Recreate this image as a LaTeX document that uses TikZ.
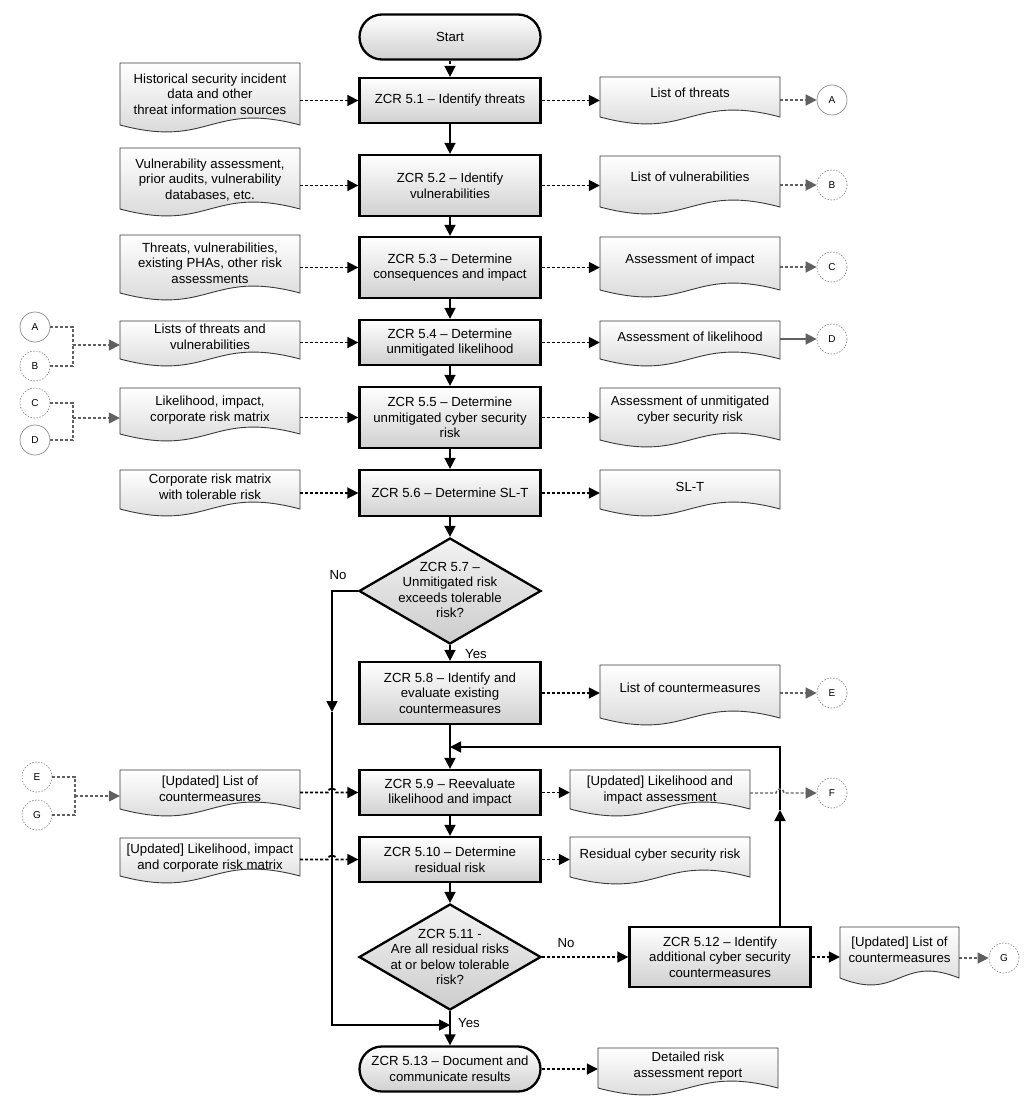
\documentclass[tikz,border=0pt]{standalone}
\usepackage{fontspec}
\setmainfont{Liberation Sans}
\usetikzlibrary{shapes.geometric,shapes.misc,arrows.meta,calc}
\definecolor{cgray}{HTML}{606060}
\definecolor{ccirc}{HTML}{8C8C8C}
\definecolor{fillbot}{HTML}{D0D0D0}
\definecolor{docline}{HTML}{3A3A3A}
\newcommand\docshape[4]{%
  \path[docpaint] (#1,#3) -- (#2,#3) -- (#2,#4) .. controls ({(#1+#2)/2},{#4-24}) and ({(#1+#2)/2},{#4+24}) .. (#1,#4) -- cycle;}
\begin{document}
\begin{tikzpicture}[x=1pt,y=-1pt,
 txt/.style={font=\fontsize{13.2}{15.6}\selectfont, align=center, inner sep=0pt},
 proc/.style={txt, draw=black, line width=2.3pt, rectangle, minimum width=181pt, top color=white, bottom color=fillbot},
 term/.style={txt, draw=black, line width=2.3pt, rounded rectangle, minimum width=181pt, minimum height=45pt, top color=white, bottom color=fillbot},
 dec/.style={draw=black, line width=2.3pt, diamond, minimum width=182pt, minimum height=106pt, inner sep=0pt, top color=black!5, bottom color=black!20},
 docpaint/.style={draw=docline, line width=0.9pt, top color=white, bottom color=black!18},
 doctext/.style={txt, minimum width=180pt},
 conn/.style={circle, draw=ccirc, line width=0.7pt, fill=white, minimum size=30pt, inner sep=0pt, font=\fontsize{10}{12}\selectfont},
 connd/.style={conn, dash pattern=on 1.5pt off 1.5pt},
 flow/.style={line width=1.7pt, -{Triangle[length=11pt,width=11pt]}},
 dflow/.style={flow, dash pattern=on 3pt off 2pt},
 gflow/.style={draw=cgray, line width=1.4pt, dash pattern=on 3pt off 2pt, -{Triangle[length=11pt,width=11pt]}},
 gsolid/.style={draw=cgray, line width=1.4pt, -{Triangle[length=11pt,width=11pt]}},
 gline/.style={draw=cgray, line width=1.4pt, dash pattern=on 3pt off 2pt},
 lbl/.style={font=\fontsize{13.2}{15.6}\selectfont, inner sep=0pt}]
\fill[white] (0,0) rectangle (1026,1102);
\useasboundingbox (0,0) rectangle (1026,1102);

% document outlines
\docshape{120}{300}{63}{125}
\docshape{120}{300}{148}{209}
\docshape{120}{300}{235}{293}
\docshape{120}{300}{321}{359}
\docshape{120}{300}{388}{434}
\docshape{120}{300}{470}{509}
\docshape{120}{300}{770}{809}
\docshape{120}{300}{838}{876}
\docshape{600}{780}{77}{117}
\docshape{600}{780}{156}{207}
\docshape{600}{780}{237}{290}
\docshape{600}{780}{321}{359}
\docshape{600}{780}{388}{440}
\docshape{600}{780}{470}{509}
\docshape{600}{780}{665}{718}
\docshape{570}{750}{770}{809}
\docshape{570}{750}{837}{877}
\docshape{840}{959}{927}{978}
\docshape{598}{778}{1048}{1088}

% document texts
\node[doctext] (L1) at (210,94) {Historical security incident\\data and other\\threat information sources};
\node[doctext] (L2) at (210,180) {Vulnerability assessment,\\prior audits, vulnerability\\databases, etc.};
\node[doctext] (L3) at (210,263) {Threats, vulnerabilities,\\existing PHAs, other risk\\assessments};
\node[doctext] (L4) at (210,337) {Lists of threats and\\vulnerabilities};
\node[doctext] (L5) at (210,410) {Likelihood, impact,\\corporate risk matrix};
\node[doctext] (L6) at (210,487) {Corporate risk matrix\\with tolerable risk};
\node[doctext] (L7) at (210,789) {[Updated] List of\\countermeasures};
\node[doctext] (L8) at (210,858) {[Updated] Likelihood, impact\\and corporate risk matrix};
\node[doctext] (R1) at (690,93) {List of threats};
\node[doctext] (R2) at (690,177) {List of vulnerabilities};
\node[doctext] (R3) at (690,260) {Assessment of impact};
\node[doctext] (R4) at (690,337) {Assessment of likelihood};
\node[doctext] (R5) at (690,410) {Assessment of unmitigated\\cyber security risk};
\node[doctext] (R6) at (690,487) {SL-T};
\node[doctext] (R7) at (690,688) {List of countermeasures};
\node[doctext] (R8) at (660,790) {[Updated] Likelihood and\\impact assessment};
\node[doctext] (R9) at (660,855) {Residual cyber security risk};
\node[doctext, minimum width=119pt] (R10) at (899.5,950) {[Updated] List of\\countermeasures};
\node[doctext] (R11) at (688,1066) {Detailed risk\\assessment report};

% process steps
\node[term] (S) at (450,37) {Start};
\node[proc, minimum height=45pt] (P51) at (450,100.5) {ZCR 5.1 – Identify threats};
\node[proc, minimum height=61pt] (P52) at (450,185.5) {ZCR 5.2 – Identify\\vulnerabilities};
\node[proc, minimum height=61pt] (P53) at (450,267.5) {ZCR 5.3 – Determine\\consequences and impact};
\node[proc, minimum height=45pt] (P54) at (450,342.5) {ZCR 5.4 – Determine\\unmitigated likelihood};
\node[proc, minimum height=61pt] (P55) at (450,417.5) {ZCR 5.5 – Determine\\unmitigated cyber security\\risk};
\node[proc, minimum height=46pt] (P56) at (450,493) {ZCR 5.6 – Determine SL-T};
\node[dec] (D57) at (450,591) {};
\node[txt] (D57t) at (450,590) {ZCR 5.7 –\\Unmitigated risk\\exceeds tolerable\\risk?};
\node[proc, minimum height=62pt] (P58) at (450,693) {ZCR 5.8 – Identify and\\evaluate existing\\countermeasures};
\node[proc, minimum height=45pt] (P59) at (450,792.5) {ZCR 5.9 – Reevaluate\\likelihood and impact};
\node[proc, minimum height=45pt] (P510) at (450,859.5) {ZCR 5.10 – Determine\\residual risk};
\node[dec] (D511) at (450,957) {};
\node[txt] (D511t) at (450,957) {ZCR 5.11 -\\Are all residual risks\\at or below tolerable\\risk?};
\node[proc, minimum height=60pt] (P512) at (720,957) {ZCR 5.12 – Identify\\additional cyber security\\countermeasures};
\node[term] (P513) at (450,1069) {ZCR 5.13 – Document and\\communicate results};

% off-page connectors
\node[conn] (cA) at (832,100) {A};
\node[connd] (cB) at (832,185) {B};
\node[connd] (cC) at (832,267) {C};
\node[connd] (cD) at (832,339) {D};
\node[connd] (cE) at (832,693) {E};
\node[connd] (cF) at (832,793) {F};
\node[connd] (cG) at (1004,958) {G};
\node[conn] (lA) at (35,327) {A};
\node[connd] (lB) at (35,366) {B};
\node[connd] (lC) at (35,403) {C};
\node[conn] (lD) at (35,440) {D};
\node[connd] (lE) at (37,777) {E};
\node[connd] (lG) at (37,815) {G};

% labels
\node[lbl] (no1) at (338,575) {No};
\node[lbl] (yes1) at (476,654) {Yes};
\node[lbl] (no2) at (566,943) {No};
\node[lbl] (yes2) at (469,1023) {Yes};

% helper coordinates
\coordinate (nox) at (332,591);
\coordinate (nomid) at (332,712);
\coordinate (nobot) at (332,1025);
\coordinate (yesjoin) at (450,1025);
\coordinate (ltop) at (780,747);
\coordinate (lmid) at (780,810);
\coordinate (bAB) at (73,345);
\coordinate (bCD) at (73,418);
\coordinate (bEG) at (75,796);

% main flow
\draw[flow, dash pattern=on 3pt off 2pt] (S.south) -- (P51.north);
\draw[flow] (P51) -- (P52);
\draw[flow] (P52) -- (P53);
\draw[flow] (P53) -- (P54);
\draw[flow] (P54) -- (P55);
\draw[flow] (P55) -- (P56);
\draw[flow] (P56.south) -- (D57.north);
\draw[flow] (D57.south) -- (P58.north);
\draw[flow] (P58.south) -- (P59.north);
\draw[flow] (P59) -- (P510);
\draw[flow] (P510.south) -- (D511.north);
\draw[flow] (D511.south) -- (P513.north);
\draw[flow] (D57.west) -- (D57.west -| nomid) -- (nomid);
\draw[flow] (nomid) -- (nobot) -- (yesjoin);
\draw[dflow] (D511.east) -- (P512.west);
\draw[flow] (P512.north -| ltop) -- (lmid);
\draw[flow] (lmid) -- (ltop) -- (P58.south |- ltop);

% inputs
\draw[dflow] (L1.east |- P51.west) -- (P51.west);
\draw[dflow] (L2.east |- P52.west) -- (P52.west);
\draw[dflow] (L3.east |- P53.west) -- (P53.west);
\draw[dflow] (L4.east |- P54.west) -- (P54.west);
\draw[dflow] (L5.east |- P55.west) -- (P55.west);
\draw[dflow] (L6.east |- P56.west) -- (P56.west);
\draw[dflow] (L7.east |- P59.west) -- ($(nox |- P59.west)+(-4,0)$) .. controls +(0,-5.5) and +(0,-5.5) .. ($(nox |- P59.west)+(4,0)$) -- (P59.west);
\draw[dflow] (L8.east |- P510.west) -- ($(nox |- P510.west)+(-4,0)$) .. controls +(0,-5.5) and +(0,-5.5) .. ($(nox |- P510.west)+(4,0)$) -- (P510.west);

% outputs
\draw[dflow] (P51.east) -- (R1.west |- P51.east);
\draw[dflow] (P52.east) -- (R2.west |- P52.east);
\draw[dflow] (P53.east) -- (R3.west |- P53.east);
\draw[dflow] (P54.east) -- (R4.west |- P54.east);
\draw[dflow] (P55.east) -- (R5.west |- P55.east);
\draw[dflow] (P56.east) -- (R6.west |- P56.east);
\draw[dflow] (P58.east) -- (R7.west |- P58.east);
\draw[dflow] (P59.east) -- (R8.west |- P59.east);
\draw[dflow] (P510.east) -- (R9.west |- P510.east);
\draw[dflow] (P512.east) -- (R10.west |- P512.east);
\draw[dflow] (P513.east) -- (R11.west |- P513.east);

% off-page links
\draw[gflow] (R1.east |- cA.west) -- (cA.west);
\draw[gflow] (R2.east |- cB.west) -- (cB.west);
\draw[gflow] (R3.east |- cC.west) -- (cC.west);
\draw[gsolid] (R4.east |- cD.west) -- (cD.west);
\draw[gflow] (R7.east |- cE.west) -- (cE.west);
\draw[gflow] (R8.east |- cF.west) -- ($(ltop |- cF.west)+(-4,0)$) .. controls +(0,-5.5) and +(0,-5.5) .. ($(ltop |- cF.west)+(4,0)$) -- (cF.west);
\draw[gflow] (R10.east |- cG.west) -- (cG.west);
\draw[gline] (lA.east) -| (bAB);
\draw[gline] (lB.east) -| (bAB);
\draw[gflow] (bAB) -- (L4.west |- bAB);
\draw[gline] (lC.east) -| (bCD);
\draw[gline] (lD.east) -| (bCD);
\draw[gflow] (bCD) -- (L5.west |- bCD);
\draw[gline] (lE.east) -| (bEG);
\draw[gline] (lG.east) -| (bEG);
\draw[gflow] (bEG) -- (L7.west |- bEG);
\end{tikzpicture}
\end{document}
